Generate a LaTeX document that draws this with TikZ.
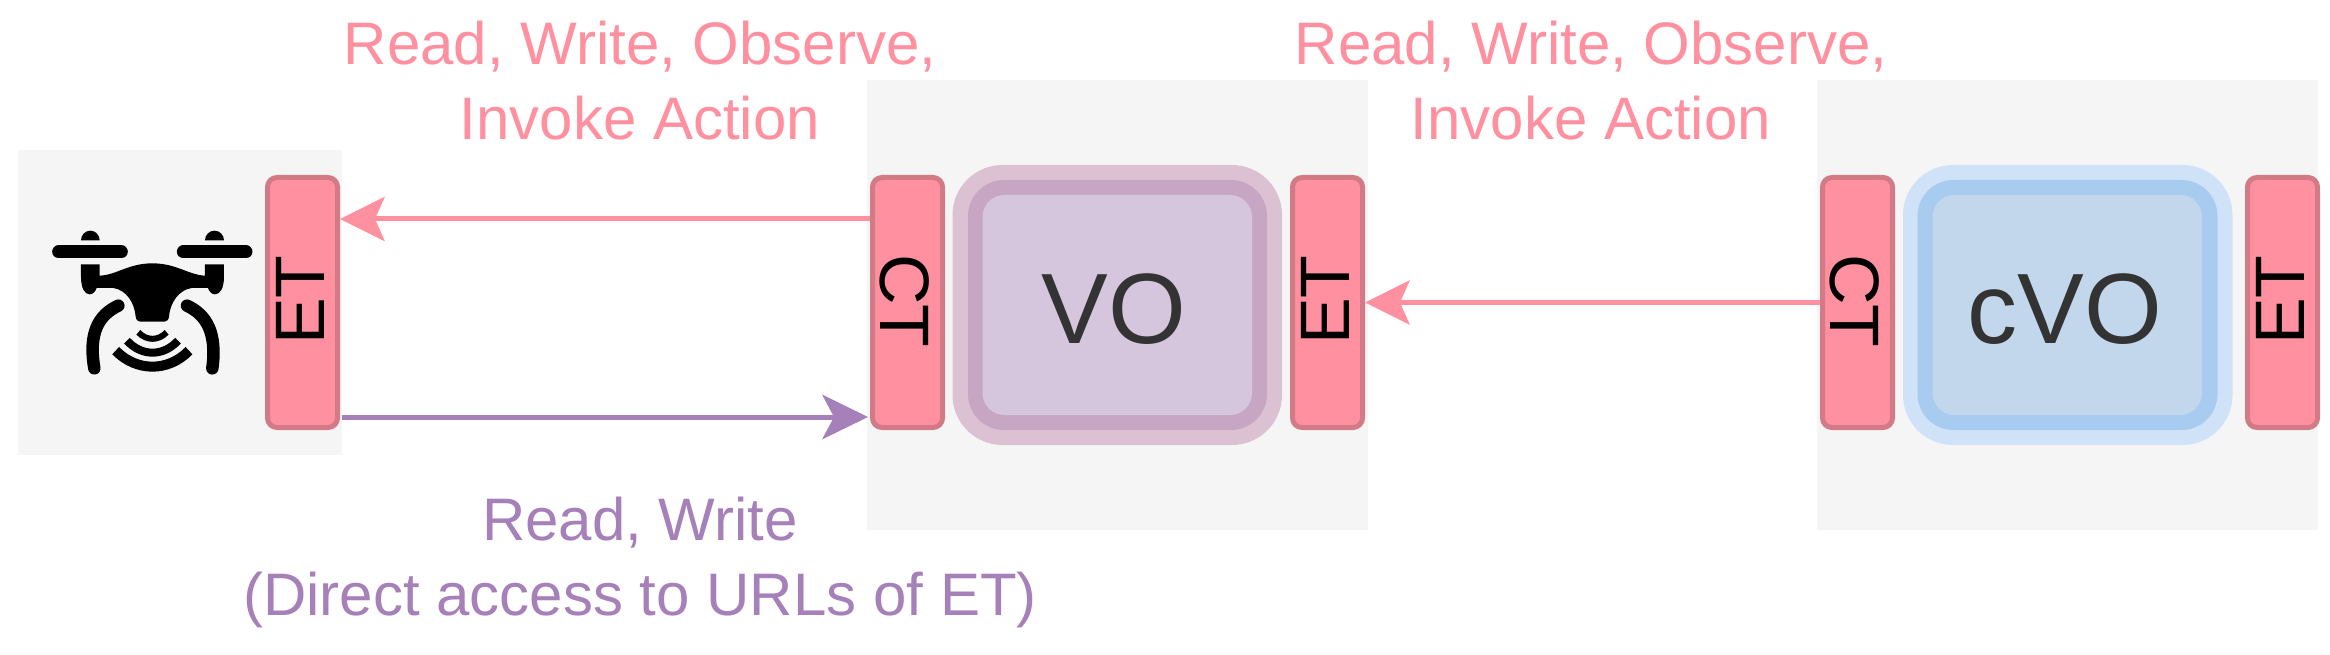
\documentclass[tikz,border=0pt]{standalone}
\usepackage{fontspec}
\setmainfont{Liberation Sans}
\usetikzlibrary{arrows.meta}
\definecolor{wotpink}{HTML}{FF909F}
\definecolor{wotedge}{HTML}{D27A86}
\definecolor{wotpurple}{HTML}{A680B8}
\definecolor{panel}{HTML}{F5F5F5}
\definecolor{darktext}{HTML}{333333}
\definecolor{voglow}{HTML}{DCC1D3}
\definecolor{voring}{HTML}{C7A6C4}
\definecolor{vofill}{HTML}{D6C6DD}
\definecolor{cvoglow}{HTML}{CFE2F7}
\definecolor{cvoring}{HTML}{A7CCF0}
\definecolor{cvofill}{HTML}{C3D7EC}
\tikzset{
  x=1pt,y=-1pt,
  tdbox/.style={draw=wotedge,fill=wotpink,line width=5pt,rounded corners=9.5pt,minimum width=70pt,minimum height=250pt,inner sep=0pt},
  tdtext/.style={font=\fontsize{70}{70}\selectfont,text=black,inner sep=0pt},
  lbl/.style={font=\fontsize{60}{74.5}\selectfont,align=center,inner sep=0pt,anchor=base},
  arrowpink/.style={draw=wotpink,line width=5pt,-{Stealth[length=45pt,width=45pt,inset=10pt,line width=0pt,fill=wotpink]}},
  arrowpurple/.style={draw=wotpurple,line width=5pt,shorten >=2pt,shorten <=2pt,-{Stealth[length=46pt,width=45pt,inset=12pt,line width=0pt,fill=wotpurple]}},
  votext/.style={font=\fontsize{100}{100}\selectfont,text=darktext,inner sep=0pt},
}
\begin{document}
\begin{tikzpicture}
\useasboundingbox (0,0) rectangle (2330,655);
% panels
\fill[panel] (17.5,150) rectangle (342,455);
\fill[panel] (867,80) rectangle (1367.5,530);
\fill[panel] (1817,80) rectangle (2318,530);
% VO
\fill[voglow,rounded corners=50pt] (952.5,165) rectangle (1282,445);
\fill[voring,rounded corners=36pt] (968,180) rectangle (1267,430);
\fill[vofill,rounded corners=22pt] (982.5,195) rectangle (1252,415);
\node[votext] (vo) at (1114,309) {VO};
% cVO
\fill[cvoglow,rounded corners=50pt] (1903,165) rectangle (2232.5,445);
\fill[cvoring,rounded corners=36pt] (1917.5,180) rectangle (2217.5,430);
\fill[cvofill,rounded corners=22pt] (1932.5,195) rectangle (2202,415);
\node[votext] (cvo) at (2065,309) {cVO};
% TD boxes
\node[tdbox] (etd) at (302.5,302.5) {};
\node[tdbox] (ctv) at (907.5,302.5) {};
\node[tdbox] (etv) at (1327.5,302.5) {};
\node[tdbox] (ctc) at (1857.5,302.5) {};
\node[tdbox] (etc) at (2282.5,302.5) {};
\node[tdtext,rotate=90] (etdt) at ([shift={(-2.5,-2.5)}]etd.center) {ET};
\node[tdtext,rotate=-90] (ctvt) at ([shift={(-2.5,-1.5)}]ctv.center) {CT};
\node[tdtext,rotate=90] (etvt) at ([shift={(-2.5,-2.5)}]etv.center) {ET};
\node[tdtext,rotate=-90] (ctct) at ([shift={(-2.5,-1.5)}]ctc.center) {CT};
\node[tdtext,rotate=90] (etct) at ([shift={(-2.5,-2.5)}]etc.center) {ET};
% connectors
\draw[arrowpink] (ctv.west |- 0,219) -- (etd.east |- 0,219);
\draw[arrowpink] (ctc.west) -- (etv.east);
\draw[arrowpurple] (etd.east |- 0,417) -- (ctv.west |- 0,417);
% labels
\node[lbl,text=wotpink] (l1) at (640,139.5) {Read, Write, Observe,\\Invoke Action};
\node[lbl,text=wotpink] (l2) at (1591,139.5) {Read, Write, Observe,\\Invoke Action};
\node[lbl,text=wotpurple] (l3) at (640,615) {Read, Write\\(Direct access to URLs of ET)};
% drone
\begin{scope}[shift={(0,130)},scale=1/3]
\fill[black] (243,331) arc[start angle=180,end angle=0,x radius=28,y radius=-29] -- cycle;
\fill[black] (615,331) arc[start angle=180,end angle=0,x radius=28.5,y radius=-29] -- cycle;
\draw[line width=13pt,line cap=round] (176,366) -- (364,366);
\draw[line width=13pt,line cap=round] (550,366) -- (738,366);
\fill[black] (243,403) -- (299,403) -- (299,437) .. controls (350,435) and (385,400) .. (457,400)
  .. controls (530,400) and (565,435) .. (615,437) -- (615,403) -- (672,403) -- (672,440)
  .. controls (672,475) and (660,493) .. (645,493) .. controls (635,493) and (628,485) .. (624,474)
  -- (575,474) .. controls (535,480) and (510,520) .. (507,560)
  .. controls (506,570) and (500,575) .. (490,575) -- (424,575)
  .. controls (414,575) and (408,570) .. (407,560)
  .. controls (404,520) and (380,480) .. (340,474) -- (290,474)
  .. controls (286,485) and (279,493) .. (269,493) .. controls (254,493) and (243,475) .. (243,440) -- cycle;
\draw[line width=12.5pt,line cap=round] (355,527) .. controls (295,555) and (265,610) .. (283,715);
\draw[line width=12.5pt,line cap=round] (561,527) .. controls (621,555) and (651,610) .. (637,715);
\draw[line width=6pt] (415,607) .. controls (440,633) and (475,633) .. (500,607);
\draw[line width=8pt] (381,632) .. controls (425,680) and (490,680) .. (534,632);
\draw[line width=10pt] (347,662) .. controls (410,726) and (505,726) .. (567,662);
\end{scope}
\end{tikzpicture}
\end{document}
